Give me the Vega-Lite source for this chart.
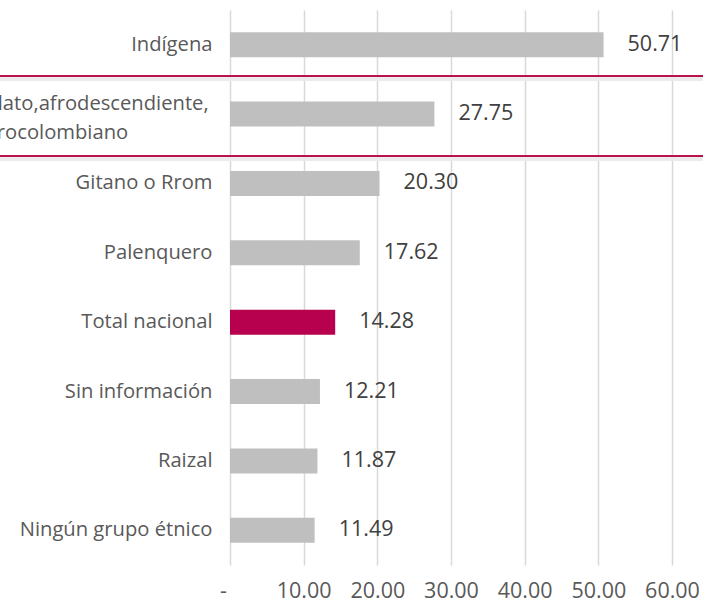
{
  "$schema": "https://vega.github.io/schema/vega-lite/v6.json",
  "width": 442,
  "height": 555,
  "autosize": "none",
  "padding": {"left": 230, "top": 10, "right": 31, "bottom": 46},
  "background": "white",
  "config": {
    "view": {"stroke": null},
    "font": "Open Sans"
  },
  "data": {
    "values": [
      {"grupo": "Indígena", "valor": 50.71, "total": "no"},
      {"grupo": "Negro, mulato,afrodescendiente, afrocolombiano", "valor": 27.75, "total": "no"},
      {"grupo": "Gitano o Rrom", "valor": 20.30, "total": "no"},
      {"grupo": "Palenquero", "valor": 17.62, "total": "no"},
      {"grupo": "Total nacional", "valor": 14.28, "total": "si"},
      {"grupo": "Sin información", "valor": 12.21, "total": "no"},
      {"grupo": "Raizal", "valor": 11.87, "total": "no"},
      {"grupo": "Ningún grupo étnico", "valor": 11.49, "total": "no"}
    ]
  },
  "encoding": {
    "y": {
      "field": "grupo",
      "type": "nominal",
      "sort": null,
      "scale": {"paddingInner": 0.64, "paddingOuter": 0.32},
      "axis": {
        "title": null,
        "domain": false,
        "ticks": false,
        "labelFontSize": 20.2,
        "labelColor": "#595959",
        "labelPadding": {"expr": "datum.value == 'Negro, mulato,afrodescendiente, afrocolombiano' ? 177 : 18"},
        "labelAlign": {"expr": "datum.value == 'Negro, mulato,afrodescendiente, afrocolombiano' ? 'center' : 'right'"},
        "labelOffset": {"expr": "datum.value == 'Negro, mulato,afrodescendiente, afrocolombiano' ? -10 : 0"},
        "labelLineHeight": 29,
        "labelLimit": 0,
        "labelExpr": "datum.value == 'Negro, mulato,afrodescendiente, afrocolombiano' ? ['Negro, mulato,afrodescendiente,', 'afrocolombiano'] : datum.label"
      }
    }
  },
  "layer": [
    {
      "mark": {"type": "bar"},
      "encoding": {
        "x": {
          "field": "valor",
          "type": "quantitative",
          "scale": {"domain": [0, 60], "nice": false},
          "axis": {
            "title": null,
            "values": [0, 10, 20, 30, 40, 50, 60],
            "domain": false,
            "ticks": false,
            "grid": true,
            "gridColor": "#d9d9d9",
            "gridWidth": 1.5,
            "labelFontSize": 21.5,
            "labelColor": "#595959",
            "labelPadding": 15,
            "labelFlush": false,
            "labelOffset": {"expr": "datum.value == 0 ? -7 : 0"},
            "labelExpr": "datum.value == 0 ? '-' : format(datum.value, '.2f')"
          }
        },
        "color": {
          "field": "total",
          "type": "nominal",
          "scale": {"domain": ["no", "si"], "range": ["#bfbfbf", "#b7004e"]},
          "legend": null
        }
      }
    },
    {
      "mark": {"type": "text", "align": "left", "baseline": "middle", "dx": 24, "fontSize": 21.5, "color": "#404040"},
      "encoding": {
        "x": {"field": "valor", "type": "quantitative"},
        "text": {"field": "valor", "type": "quantitative", "format": ".2f"}
      }
    },
    {
      "transform": [{"filter": "datum.grupo == 'Negro, mulato,afrodescendiente, afrocolombiano'"}],
      "mark": {"type": "rule", "color": "#ebebeb", "strokeWidth": 4, "clip": false},
      "encoding": {
        "y": {"field": "grupo", "type": "nominal", "sort": null, "bandPosition": -0.9},
        "x": {"datum": -31.3},
        "x2": {"datum": 64.3}
      }
    },
    {
      "transform": [{"filter": "datum.grupo == 'Negro, mulato,afrodescendiente, afrocolombiano'"}],
      "mark": {"type": "rule", "color": "#ebebeb", "strokeWidth": 4, "clip": false},
      "encoding": {
        "y": {"field": "grupo", "type": "nominal", "sort": null, "bandPosition": 2.3},
        "x": {"datum": -31.3},
        "x2": {"datum": 64.3}
      }
    },
    {
      "transform": [{"filter": "datum.grupo == 'Negro, mulato,afrodescendiente, afrocolombiano'"}],
      "mark": {"type": "rule", "color": "#b8124f", "strokeWidth": 2, "clip": false},
      "encoding": {
        "y": {"field": "grupo", "type": "nominal", "sort": null, "bandPosition": -1.02},
        "x": {"datum": -31.3},
        "x2": {"datum": 64.3}
      }
    },
    {
      "transform": [{"filter": "datum.grupo == 'Negro, mulato,afrodescendiente, afrocolombiano'"}],
      "mark": {"type": "rule", "color": "#b8124f", "strokeWidth": 2, "clip": false},
      "encoding": {
        "y": {"field": "grupo", "type": "nominal", "sort": null, "bandPosition": 2.18},
        "x": {"datum": -31.3},
        "x2": {"datum": 64.3}
      }
    }
  ]
}
